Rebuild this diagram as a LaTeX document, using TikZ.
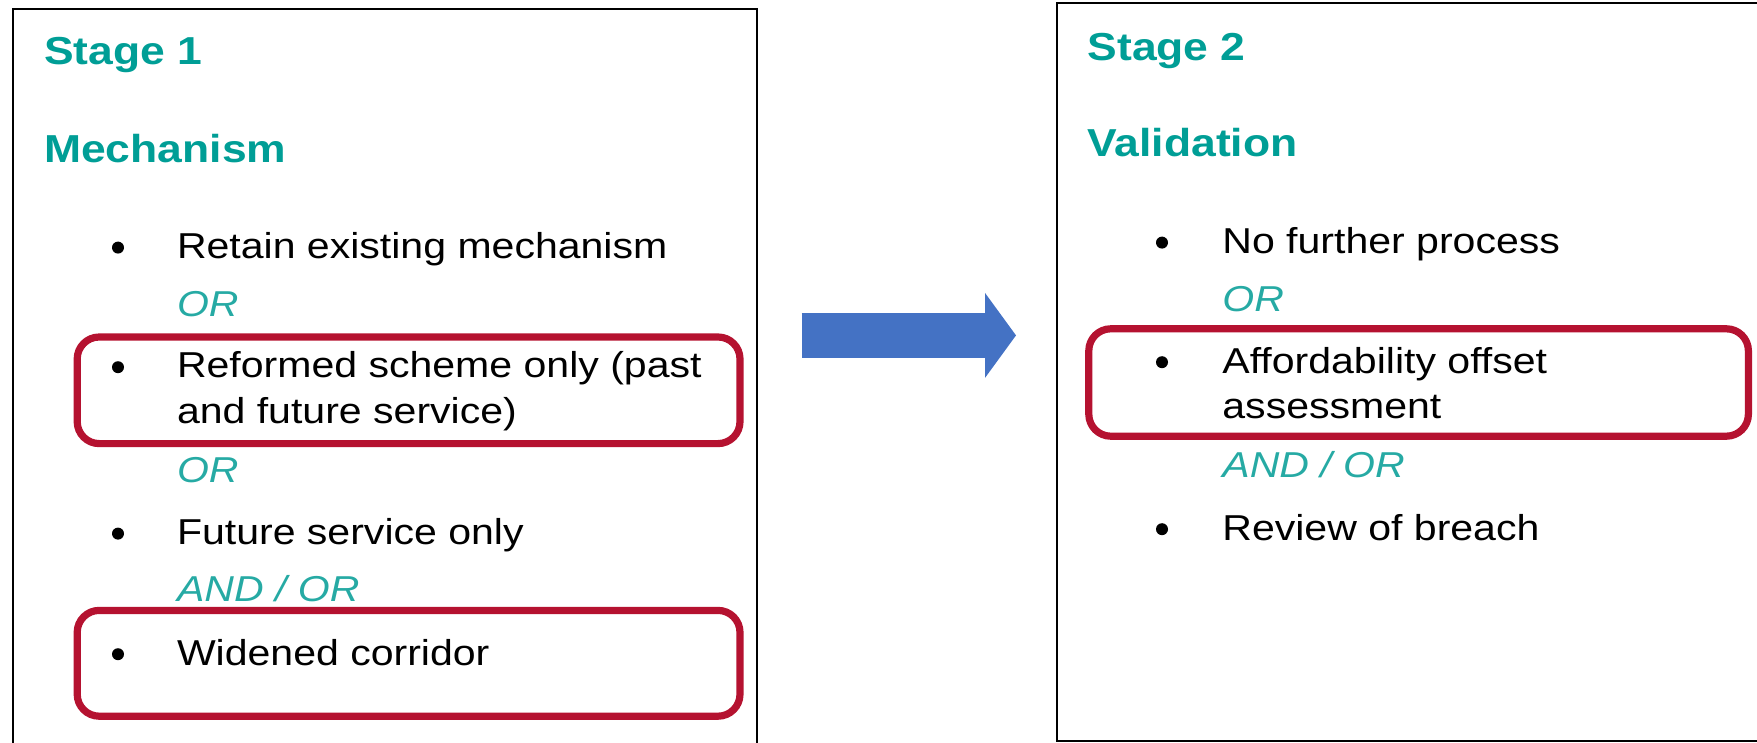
\documentclass[tikz,border=0pt]{standalone}
\usepackage{fontspec}
\setmainfont[FakeStretch=1.14]{Liberation Sans}
\usepackage{xcolor}
\usepackage{tikz}
\usetikzlibrary{arrows.meta}

\definecolor{stageteal}{RGB}{0,158,150}
\definecolor{orteal}{RGB}{38,170,164}
\definecolor{hlred}{RGB}{181,18,48}
\definecolor{arrowblue}{RGB}{68,114,196}
\newcommand{\headfont}{\fontsize{19.5}{23}\selectfont\bfseries}
\newcommand{\itemfont}{\fontsize{18}{22}\selectfont}

\begin{document}
\begin{tikzpicture}[
      x=1pt, y=-1pt,
      panel/.style={rectangle, draw=black, line width=1pt, outer sep=0pt, anchor=north west},
      head/.style={anchor=base west, inner sep=0pt, font=\headfont, text=stageteal},
      item/.style={anchor=base west, inner sep=0pt, font=\itemfont},
      conj/.style={anchor=base west, inner sep=0pt, font=\itemfont\itshape, text=orteal},
      dot/.style={circle, fill=black, inner sep=0pt, minimum size=6pt},
      hl/.style={draw=hlred, line width=3.6pt, rounded corners=11pt},
      bigarrow/.style={draw=arrowblue, line width=22.7pt, shorten <=22.5pt, shorten >=20.6pt,
                       -{Triangle[length=15.5pt, width=42.5pt, line width=0pt]}}
    ]
    \useasboundingbox (0,0) rectangle (878.5,371.5);
    % the two stages, both cut by the page edge
    \node[panel, minimum width=371.6pt, minimum height=385pt] (p1) at (6.7,4.5) {};
    \node[panel, minimum width=370pt, minimum height=368.6pt] (p2) at (528.6,1.7) {};
    \coordinate (mid) at (0,167.7);
    \draw[bigarrow] (p1.east |- mid) -- (p2.west |- mid);

    % stage 1
    \node[head] (s1) at (21.9,32.5) {Stage 1};
    \node[head] (mech) at (21.9,81.2) {Mechanism};
    \node[item] (keep) at (88.3,129.2) {Retain existing mechanism};
    \node[conj] (or1) at (88.3,158.3) {OR};
    \node[item] (ref1) at (88.3,189) {Reformed scheme only (past};
    \node[item] (ref2) at (88.3,211.7) {and future service)};
    \node[conj] (or2) at (88.3,241.3) {OR};
    \node[item] (fut) at (88.3,272.2) {Future service only};
    \node[conj] (andor1) at (88.3,300.8) {AND / OR};
    \node[item] (wide) at (88.3,332.5) {Widened corridor};
    \node[dot] (d1) at (59,123.8) {};
    \node[dot] (d2) at (59,183.6) {};
    \node[dot] (d3) at (59,266.8) {};
    \node[dot] (d4) at (59,327.1) {};

    % stage 2
    \node[head] (s2) at (543.6,30.5) {Stage 2};
    \node[head] (valid) at (543.6,78.3) {Validation};
    \node[item] (nofur) at (611,126.7) {No further process};
    \node[conj] (or3) at (611,155.8) {OR};
    \node[item] (aff1) at (611,186.5) {Affordability offset};
    \node[item] (aff2) at (611,209.2) {assessment};
    \node[conj] (andor2) at (611,238.7) {AND / OR};
    \node[item] (breach) at (611,270) {Review of breach};
    \node[dot] (e1) at (581,121.3) {};
    \node[dot] (e2) at (581,181.1) {};
    \node[dot] (e3) at (581,264.6) {};

    % highlighted options
    \draw[hl] (38.6,168.5) rectangle (370,221.8);
    \draw[hl] (38.6,305.2) rectangle (370,358.1);
    \draw[hl] (544.4,164.4) rectangle (874.2,218.1);
  \end{tikzpicture}
\end{document}
